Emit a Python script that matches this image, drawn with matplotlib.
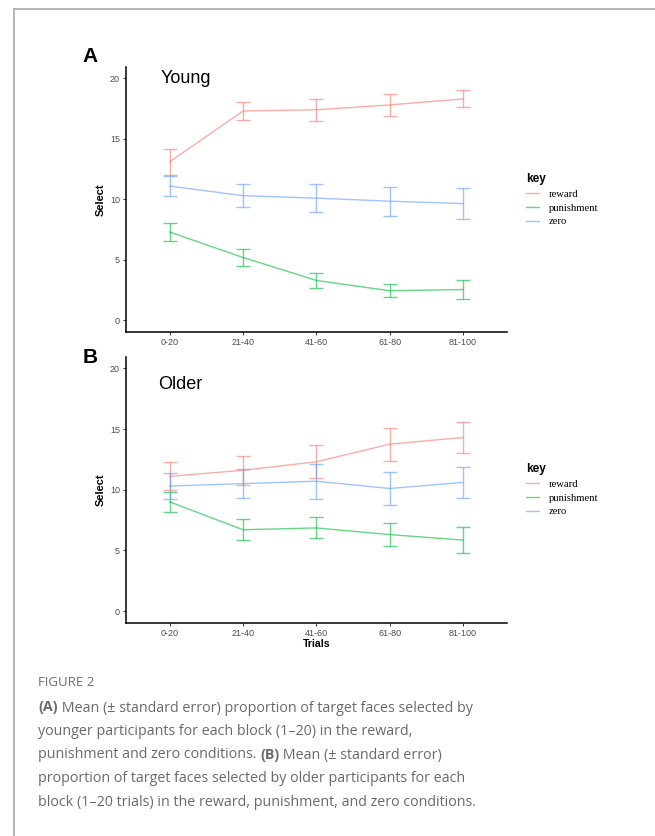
import matplotlib
matplotlib.use("Agg")
import matplotlib.pyplot as plt
from matplotlib.lines import Line2D

plt.rcParams['font.family'] = ['Liberation Sans', 'DejaVu Sans']

trials = ['0-20', '21-40', '41-60', '61-80', '81-100']
conditions = ['reward', 'punishment', 'zero']
colours = ['#f8766d', '#00ba38', '#619cff']

# young participants (panel A)
young_reward = [13.1, 17.3, 17.4, 17.8, 18.3]
young_reward_se = [1.1, 0.75, 0.9, 0.9, 0.7]
young_punish = [7.3, 5.2, 3.3, 2.45, 2.55]
young_punish_se = [0.75, 0.68, 0.62, 0.53, 0.77]
young_zero = [11.1, 10.3, 10.1, 9.85, 9.65]
young_zero_se = [0.85, 0.97, 1.15, 1.2, 1.27]

# older participants (panel B)
older_reward = [11.1, 11.6, 12.3, 13.75, 14.3]
older_reward_se = [1.15, 1.2, 1.35, 1.35, 1.3]
older_punish = [9.0, 6.7, 6.85, 6.3, 5.85]
older_punish_se = [0.8, 0.85, 0.87, 0.97, 1.04]
older_zero = [10.3, 10.5, 10.7, 10.1, 10.6]
older_zero_se = [1.08, 1.2, 1.45, 1.33, 1.3]

caption_lines = [
    [("(A)", True), (" Mean (\u00b1 standard error) proportion of target faces selected by", False)],
    [("younger participants for each block (1\u201320) in the reward,", False)],
    [("punishment and zero conditions. ", False), ("(B)", True), (" Mean (\u00b1 standard error)", False)],
    [("proportion of target faces selected by older participants for each", False)],
    [("block (1\u201320 trials) in the reward, punishment, and zero conditions.", False)],
]

W, H = 655, 836
fig = plt.figure(figsize=(W / 100, H / 100), dpi=100)


def fx(px):
    return px / W


def fy(py):
    return 1 - py / H


def panel(rect, means, ses, title, title_y, title_x, letter, letter_y, legend_top, xlabel):
    ax = fig.add_axes(rect)
    x = list(range(len(trials)))
    for m, s, c, lab in zip(means, ses, colours, conditions):
        ax.errorbar(x, m, yerr=s, color=c, alpha=0.6, lw=1.0, elinewidth=1.0,
                    capsize=4.9, capthick=1.0, label=lab)
    ax.set_xlim(-0.6, 4.6)
    ax.set_ylim(-0.96, 20.96)
    ax.set_xticks(x)
    ax.set_xticklabels(trials)
    ax.set_yticks([0, 5, 10, 15, 20])
    for side in ['top', 'right']:
        ax.spines[side].set_visible(False)
    for side in ['left', 'bottom']:
        ax.spines[side].set_linewidth(1.1)
    ax.tick_params(length=2.2, width=0.7, color='#333333', labelcolor='#4d4d4d',
                   labelsize=6.5, pad=2)
    ax.set_ylabel('Select', fontsize=8, fontweight='bold')
    ax.yaxis.set_label_coords(-0.053, 0.5)
    if xlabel:
        ax.set_xlabel('Trials', fontsize=7.6, fontweight='bold', labelpad=1)
    ax.text(title_x, title_y, title, fontsize=13, va='center', ha='left')
    fig.text(fx(90), fy(letter_y), letter, fontsize=15, fontweight='bold',
             ha='center', va='center')
    handles = [Line2D([], [], color=c, alpha=0.6, lw=1.0) for c in colours]
    leg = ax.legend(handles, conditions, title='key', loc='upper left',
                    bbox_to_anchor=(fx(526), fy(legend_top)),
                    bbox_transform=fig.transFigure, frameon=False,
                    borderpad=0, borderaxespad=0, handlelength=1.2,
                    handletextpad=0.9, labelspacing=0.4,
                    prop={'family': 'Liberation Serif', 'size': 7.7},
                    alignment='left')
    leg.get_title().set_fontsize(8.5)
    leg.get_title().set_fontweight('bold')
    return ax


panel([fx(125.7), fy(332), fx(507) - fx(125.7), fy(66.7) - fy(332)],
      [young_reward, young_punish, young_zero],
      [young_reward_se, young_punish_se, young_zero_se],
      'Young', 20.0, -0.12, 'A', 56, 173, False)
panel([fx(125.7), fy(622.7), fx(507) - fx(125.7), fy(356.7) - fy(622.7)],
      [older_reward, older_punish, older_zero],
      [older_reward_se, older_punish_se, older_zero_se],
      'Older', 18.7, -0.155, 'B', 358, 463, True)

# page frame
fig.add_artist(Line2D([fx(14), 1], [fy(9), fy(9)], color='#b0b0b0', lw=1.3))
fig.add_artist(Line2D([fx(14), fx(14)], [fy(9), 0], color='#b0b0b0', lw=1.3))

# caption
cap_font = 'Open Sans'
fig.text(fx(38), fy(683), 'FIGURE 2', fontsize=9.5, color='#707070',
         family=cap_font, va='center', ha='left')
renderer = fig.canvas.get_renderer()
line_y = [707, 730.5, 754, 777.5, 801.5]
for parts, yy in zip(caption_lines, line_y):
    xpos = fx(38)
    for txt, bold in parts:
        t = fig.text(xpos, fy(yy + 4.5), txt, va='baseline', ha='left',
                     fontsize=10.3, color='#6a6a6a', family=cap_font,
                     fontweight='bold' if bold else 'normal')
        ext = t.get_window_extent(renderer)
        xpos = ext.x1 / W

fig.savefig('out.png', dpi=100)
